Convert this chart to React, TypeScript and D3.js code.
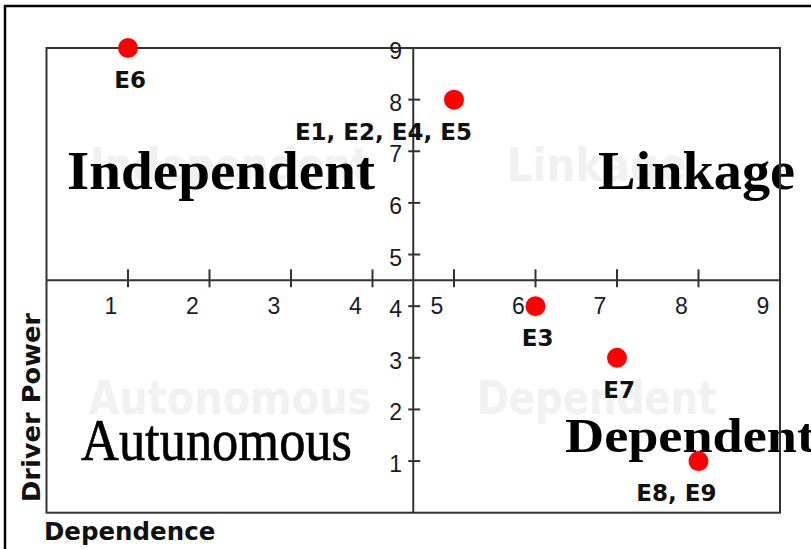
import React from 'react';
import * as d3 from 'd3';

// 점 데이터 (Dependence, Driver Power)
const pointNames = ['E6', 'E1, E2, E4, E5', 'E3', 'E7', 'E8, E9'];
const dependence = [1, 5, 6, 7, 8];
const driverPower = [9, 8, 4, 3, 1];

const xTicks = [1, 2, 3, 4, 5, 6, 7, 8, 9];
const yTicks = [1, 2, 3, 4, 5, 6, 7, 8, 9];

// 사분면 워터마크 (차트 내부)
const quadrantNames = ['Independent', 'Linkage', 'Autonomous', 'Dependent'];
// 사분면 위에 덧씌운 큰 세리프 제목
const overlayNames = ['Independent', 'Linkage', 'Autunomous', 'Dependent'];

const xTitle = 'Dependence';
const yTitle = 'Driver Power';

const W = 811;
const H = 549;
const MID = 4.5;

export default function App() {
	const x = d3.scaleLinear().domain([0, 9]).range([46.5, 780]);
	const y = d3.scaleLinear().domain([0, 9]).range([512.7, 48]);

	const x0 = x(0), x1 = x(9), y0 = y(0), y1 = y(9);
	const xm = x(MID), ym = y(MID);

	// 워터마크 위치: 각 사분면 중앙
	const wm = [
		{ cx: (x0 + xm) / 2, cy: (y1 + ym) / 2, len: 280 },
		{ cx: (xm + x1) / 2, cy: (y1 + ym) / 2, len: 180 },
		{ cx: (x0 + xm) / 2, cy: (ym + y0) / 2, len: 283 },
		{ cx: (xm + x1) / 2, cy: (ym + y0) / 2, len: 240 },
	];

	// 큰 세리프 제목 배치
	const ov = [
		{ x: 67, y: 188.5, len: 308, size: 54, weight: 'bold' },
		{ x: 598, y: 188.5, len: 197, size: 55, weight: 'bold' },
		{ x: 81, y: 460, len: 271, size: 60, weight: 'normal' },
		{ x: 565, y: 451.7, len: 250, size: 48, weight: 'bold' },
	];

	const axisColor = '#333';
	const tickFont = '"Liberation Sans", Arial, sans-serif';
	const boldFont = '"DejaVu Sans", Verdana, sans-serif';

	return (
		<div style={{ position: 'absolute', left: 0, top: 0 }}>
			<svg width={W} height={H} style={{ display: 'block', background: '#fff' }}>
				{/* 바깥 테두리 */}
				<rect x={5} y={6} width={W + 50} height={H + 50} fill="none" stroke="#000" strokeWidth={2.5} />

				{/* 워터마크 */}
				{quadrantNames.map((name, i) => (
					<text key={'wm' + i} x={wm[i].cx} y={wm[i].cy + 17} textAnchor="middle"
						fontFamily={boldFont} fontWeight="bold" fontSize={46} fill="#f1f1f1"
						textLength={wm[i].len} lengthAdjust="spacingAndGlyphs">{name}</text>
				))}

				{/* 큰 세리프 제목 */}
				{overlayNames.map((name, i) => (
					<text key={'ov' + i} x={ov[i].x} y={ov[i].y}
						fontFamily='"Liberation Serif", "Times New Roman", serif' fontWeight={ov[i].weight}
						fontSize={ov[i].size} fill="#000" stroke={ov[i].weight === 'normal' ? '#000' : 'none'}
						strokeWidth={0.7} textLength={ov[i].len} lengthAdjust="spacingAndGlyphs">{name}</text>
				))}

				{/* 플롯 박스 */}
				<rect x={x0} y={y1} width={x1 - x0} height={y0 - y1} fill="none" stroke={axisColor} strokeWidth={2} />

				{/* 중앙 축 */}
				<line x1={xm} x2={xm} y1={y1} y2={y0} stroke={axisColor} strokeWidth={2} />
				<line x1={x0} x2={x1} y1={ym} y2={ym} stroke={axisColor} strokeWidth={2} />

				{/* x 눈금 */}
				{xTicks.map(t => (
					<g key={'xt' + t}>
						<line x1={x(t)} x2={x(t)} y1={ym - 11} y2={ym + 7} stroke={axisColor} strokeWidth={2} />
						<text x={x(t) - 17} y={ym + 34} textAnchor="middle" fontFamily={tickFont}
							fontSize={23} fill="#1a1a2a">{t}</text>
					</g>
				))}

				{/* y 눈금 */}
				{yTicks.map(t => (
					<g key={'yt' + t}>
						<line x1={xm - 5} x2={xm + 7} y1={y(t)} y2={y(t)} stroke={axisColor} strokeWidth={2} />
						<text x={402} y={y(t) + 11} textAnchor="end" fontFamily={tickFont}
							fontSize={23} fill="#1a1a2a">{t}</text>
					</g>
				))}

				{/* 점 */}
				{dependence.map((d, i) => (
					<circle key={'pt' + i} cx={x(d)} cy={y(driverPower[i])} r={10} fill="#ff0000" />
				))}

				{/* 점 라벨 */}
				{pointNames.map((name, i) => (
					<text key={'pl' + i} x={x(dependence[i]) + 18} y={y(driverPower[i]) + 40} textAnchor="end"
						fontFamily={boldFont} fontWeight="bold" fontSize={23} fill="#111">{name}</text>
				))}

				{/* 축 제목 */}
				<text x={44} y={540} fontFamily={boldFont} fontWeight="bold" fontSize={24.5} fill="#111">{xTitle}</text>
				<text transform="translate(40,407.5) rotate(-90)" textAnchor="middle" fontFamily={boldFont}
					fontWeight="bold" fontSize={24.5} fill="#111" textLength={189} lengthAdjust="spacingAndGlyphs">{yTitle}</text>
			</svg>
		</div>
	);
}
